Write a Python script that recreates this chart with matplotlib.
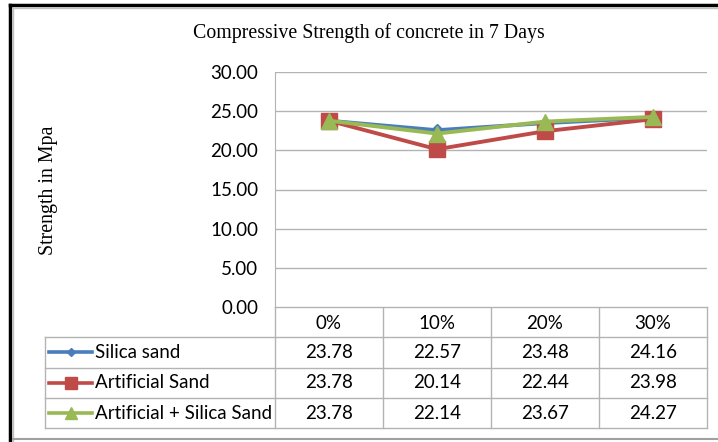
import matplotlib.pyplot as plt

# Données
categories = ['0%', '10%', '20%', '30%']
series_names = ['Silica sand', 'Artificial Sand', 'Artificial + Silica Sand']
silica = [23.78, 22.57, 23.48, 24.16]
artificial = [23.78, 20.14, 22.44, 23.98]
art_silica = [23.78, 22.14, 23.67, 24.27]
y_ticks = [0, 5, 10, 15, 20, 25, 30]

series = [silica, artificial, art_silica]
colors = ['#4a7ebb', '#be4b48', '#98b954']
markers = ['D', 's', '^']
msizes = [6, 11, 11]

W, H = 718, 442
fig = plt.figure(figsize=(W / 100, H / 100), dpi=100)
fig.patch.set_facecolor('white')

def fx(px):
    return px / W

def fy(py):
    return 1 - py / H

sans = 'Lato'
serif = 'Liberation Serif'
grid_col = '#b3b3b3'
fs = 13.5

# Zone du graphique
left, right, top, bottom = 275, 707, 72, 307
ax = fig.add_axes([fx(left), fy(bottom), fx(right - left), (bottom - top) / H])
for vals, c, m, ms in zip(series, colors, markers, msizes):
    ax.plot(range(len(categories)), vals, color=c, lw=2.8, marker=m,
            markersize=ms, markeredgecolor=c, zorder=3)
ax.set_xlim(-0.5, len(categories) - 0.5)
ax.set_ylim(0, 30)
ax.set_yticks(y_ticks)
ax.set_yticklabels([f'{v:.2f}' for v in y_ticks], fontfamily=sans, fontsize=fs)
ax.tick_params(axis='y', length=0, pad=12)
ax.set_xticks([])
ax.grid(axis='y', color=grid_col, lw=1)
for s in ['top', 'right', 'bottom']:
    ax.spines[s].set_visible(False)
ax.spines['left'].set_color(grid_col)

fig.text(fx(369), fy(33), 'Compressive Strength of concrete in 7 Days',
         ha='center', va='center', fontfamily=serif, fontsize=14.3)
fig.text(fx(48), fy(190), 'Strength in Mpa', ha='center', va='center',
         rotation=90, fontfamily=serif, fontsize=14.3)

# Tableau de données
tab_left, row_h = 45, 30.3
n = len(categories)
col_w = (right - left) / n
tax = fig.add_axes([0, 0, 1, 1], zorder=-1)
tax.set_xlim(0, W)
tax.set_ylim(H, 0)
tax.axis('off')

tbl_bottom = bottom + row_h * (len(series) + 1)
tax.plot([left, right], [bottom, bottom], color=grid_col, lw=1)
for i in range(1, len(series) + 2):
    y = bottom + row_h * i
    tax.plot([tab_left, right], [y, y], color=grid_col, lw=1)
tax.plot([tab_left, tab_left], [bottom + row_h, tbl_bottom], color=grid_col, lw=1)
for j in range(n + 1):
    x = left + col_w * j
    tax.plot([x, x], [bottom, tbl_bottom], color=grid_col, lw=1)

for j, cat in enumerate(categories):
    tax.text(left + col_w * (j + 0.5), bottom + row_h * 0.55, cat,
             ha='center', va='center', fontfamily=sans, fontsize=fs)

for i, (name, vals) in enumerate(zip(series_names, series)):
    yc = bottom + row_h * (i + 1.5)
    tax.plot([49, 92], [yc, yc], color=colors[i], lw=2.6)
    tax.plot([70.5], [yc], marker=markers[i], color=colors[i],
             markersize=msizes[i] * 0.75, markeredgecolor=colors[i])
    tax.text(95, yc, name, ha='left', va='center', fontfamily=sans, fontsize=fs)
    for j, v in enumerate(vals):
        tax.text(left + col_w * (j + 0.5), yc, f'{v:.2f}', ha='center',
                 va='center', fontfamily=sans, fontsize=fs)

# Cadre extérieur
tax.plot([10, 10], [5, H], color='black', lw=2.5)
tax.plot([10, W], [5, 5], color='black', lw=2.5)
tax.plot([13, 13], [8, H], color='#c0c0c0', lw=1)
tax.plot([13, W], [8, 8], color='#c0c0c0', lw=1)
tax.plot([13, W], [439, 439], color='#a0a0a0', lw=1.5)

plt.savefig('out.png', dpi=100)
